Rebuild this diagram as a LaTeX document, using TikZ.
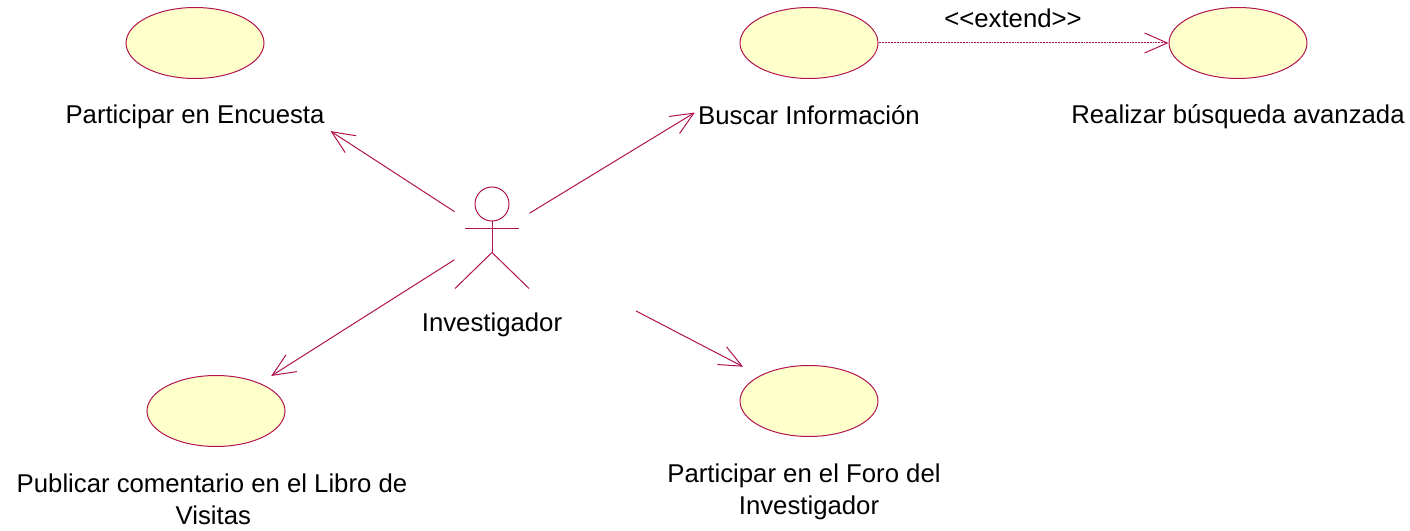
\documentclass[tikz,border=0pt]{standalone}
\usepackage{fontspec}
\setmainfont{Liberation Sans}
\usetikzlibrary{positioning}
\usetikzlibrary{arrows.meta}
\usetikzlibrary{shapes.geometric}
\definecolor{rosered}{HTML}{B0134F}
\definecolor{caseyellow}{HTML}{FFFFCB}

\begin{document}
\begin{tikzpicture}[
                x=0.75pt, y=-0.75pt,
                on grid,
                line width=0.75pt,
                >={Straight Barb[length=17pt, width=15pt]},
                usecase/.style={ellipse, draw=rosered, fill=caseyellow, minimum width=103.5pt, minimum height=53.25pt, inner sep=0pt},
                caselabel/.style={align=center, font=\fontsize{19.3}{23.7}\selectfont, inner sep=0pt},
                actorbox/.style={rectangle, minimum width=55.5pt, minimum height=78pt, inner sep=0pt},
                link/.style={draw=rosered, ->},
            ]
            \useasboundingbox (0,0) rectangle (1410,531);

            % Nodes
            \node[actorbox]     (actor)     at (492,236)    {};
            \node[caselabel]    (actor_label)    [below=66.75pt of actor]    {Investigador};

            \node[usecase]      (encuesta)  [above left=144.75pt and 222.75pt of actor]    {};
            \node[caselabel]    (encuesta_label)    [below=55.5pt of encuesta]    {Participar en Encuesta};

            \node[usecase]      (buscar)    [above right=144.75pt and 237.75pt of actor]    {};
            \node[caselabel]    (buscar_label)      [below=54pt of buscar]    {Buscar Información};

            \node[usecase]      (realizar)  [right=321.75pt of buscar]    {};
            \node[caselabel]    (realizar_label)    [below=55.5pt of realizar]    {Realizar búsqueda avanzada};

            \node[usecase]      (publicar)  [below left=131.25pt and 207pt of actor]    {};
            \node[caselabel]    (publicar_label)    [below=66pt of publicar, xshift=-3pt]    {Publicar comentario en el Libro de\\\hspace*{2pt}Visitas};

            \node[usecase]      (foro)      [below right=123.75pt and 237.75pt of actor]    {};
            \node[caselabel]    (foro_label)        [below=68.25pt of foro, xshift=-3.75pt]    {Participar en el Foro del\\\hspace*{7.5pt}Investigador};

            \node[caselabel]    (extend_label)      [above right=18.5pt and 153pt of buscar]    {<{}<extend>{}>};

            % Actor
            \node[circle, draw=rosered, minimum size=25.5pt, inner sep=0pt]    (head)    [above=24pt of actor]    {};
            \coordinate[below=23.25pt of head.south]    (hip);
            \coordinate[below=5.5pt of head.south]      (shoulder);
            \coordinate[left=20pt of shoulder]          (hand_l);
            \coordinate[right=20pt of shoulder]         (hand_r);
            \coordinate[below left=27pt and 27.75pt of hip]     (foot_l);
            \coordinate[below right=27pt and 27.75pt of hip]    (foot_r);
            \draw[rosered] (head.south) -- (hip);
            \draw[rosered] (hand_l) -- (hand_r);
            \draw[rosered] (foot_l) -- (hip) -- (foot_r);

            %Lines
            \draw[link, shorten >=82.5pt] (actor) -- (encuesta);
            \draw[link, shorten >=60.75pt] (actor) -- (buscar);
            \draw[link, shorten >=10pt] (actor) -- (publicar);
            \draw[link, shorten <=90pt, shorten >=14.25pt] (actor) -- (foro);
            \draw[link, dash pattern=on 0.75pt off 0.4pt] (buscar) -- (realizar);
        \end{tikzpicture}
\end{document}
